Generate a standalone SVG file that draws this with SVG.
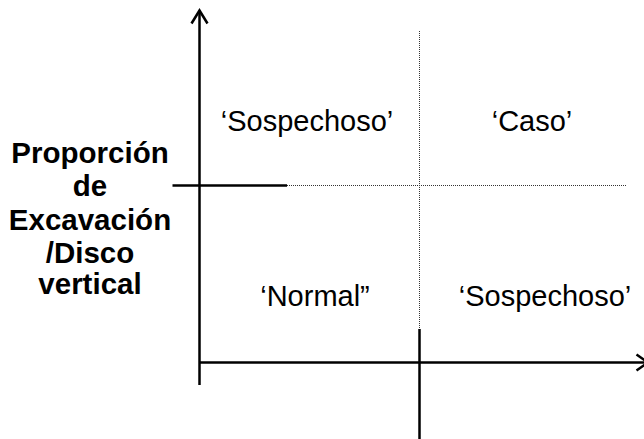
<svg xmlns="http://www.w3.org/2000/svg" width="644" height="439" viewBox="0 0 644 439">
<style>
.axis{stroke:#000;stroke-width:2.5;fill:none}
.dot{stroke:#333;stroke-width:1;stroke-dasharray:1 1;fill:none}
.lbl{font-family:"Liberation Sans",Arial,sans-serif;font-size:29px;fill:#000;text-anchor:middle}
.ax{font-family:"Liberation Sans",Arial,sans-serif;font-size:29.5px;font-weight:bold;fill:#000;text-anchor:middle}
</style>
<rect width="644" height="439" fill="#fff"/>
<g id="connectors">
<line class="dot" x1="419.5" y1="31" x2="419.5" y2="330"/>
<line class="dot" x1="287" y1="185.5" x2="627" y2="185.5"/>
<line class="axis" x1="172.5" y1="185.5" x2="287" y2="185.5"/>
<line class="axis" x1="419.5" y1="329" x2="419.5" y2="439"/>
<line class="axis" x1="199.5" y1="11" x2="199.5" y2="385"/>
<polyline class="axis" points="191.5,23.5 199.5,10.5 207.5,23.5"/>
<line class="axis" x1="199.5" y1="362.5" x2="644" y2="362.5"/>
<polyline class="axis" points="636.5,354.5 648,362.5 636.5,370.5"/>
</g>
<g id="yaxis-label">
<text class="ax" x="90" y="163">Proporción</text>
<text class="ax" x="90" y="196">de</text>
<text class="ax" x="90" y="230">Excavación</text>
<text class="ax" x="90" y="263">/Disco</text>
<text class="ax" x="90" y="294">vertical</text>
</g>
<g id="q-sospechoso-top"><text class="lbl" x="307" y="131">‘Sospechoso’</text></g>
<g id="q-caso"><text class="lbl" x="532" y="131">‘Caso’</text></g>
<g id="q-normal"><text class="lbl" x="315" y="306">‘Normal”</text></g>
<g id="q-sospechoso-bottom"><text class="lbl" x="545" y="306">‘Sospechoso’</text></g>
</svg>
